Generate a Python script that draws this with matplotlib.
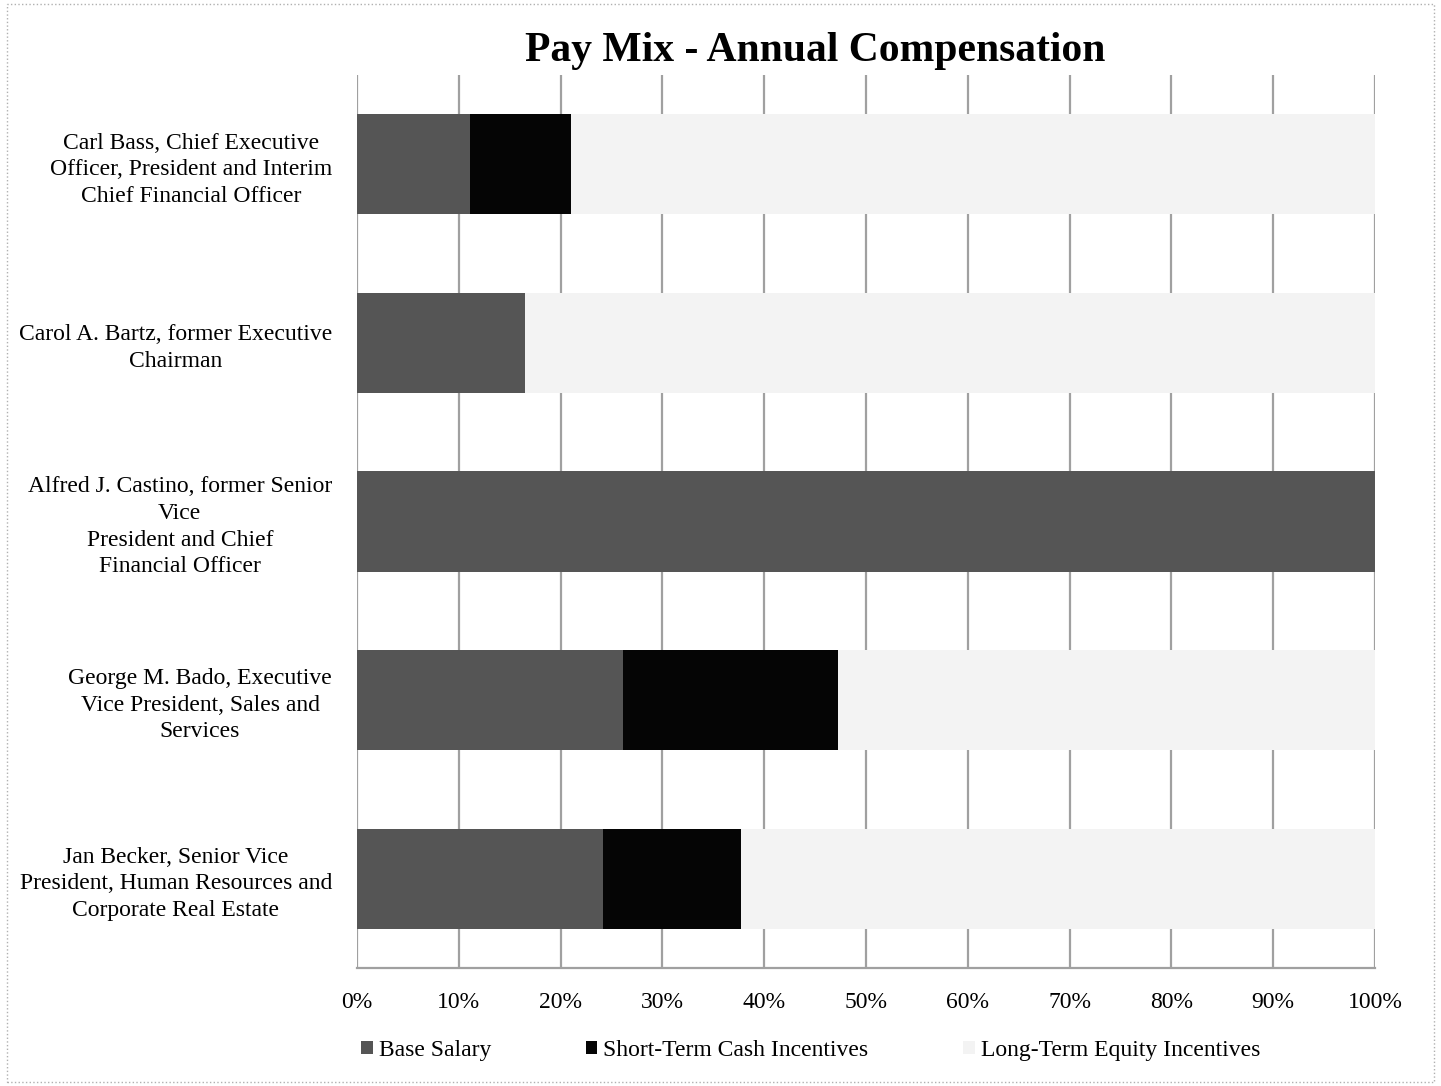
import numpy as np
import matplotlib.pyplot as plt
from matplotlib.patches import Patch, Rectangle

plt.rcParams['font.family'] = ['Liberation Serif', 'DejaVu Serif']

names = [
    'Carl Bass, Chief Executive\nOfficer, President and Interim\nChief Financial Officer',
    'Carol A. Bartz, former Executive\nChairman',
    'Alfred J. Castino, former Senior\nVice\nPresident and Chief\nFinancial Officer',
    'George M. Bado, Executive\nVice President, Sales and\nServices',
    'Jan Becker, Senior Vice\nPresident, Human Resources and\nCorporate Real Estate',
]
base_salary = np.array([11.1, 16.5, 100.0, 26.1, 24.2])
short_term = np.array([9.9, 0.0, 0.0, 21.2, 13.5])
long_term = 100.0 - base_salary - short_term

series = ['Base Salary', 'Short-Term Cash Incentives', 'Long-Term Equity Incentives']
colors = ['#555555', '#050505', '#f3f3f3']

fig = plt.figure(figsize=(14.41, 10.86), dpi=100)
ax = fig.add_axes([0.2477, 0.1087, 0.7065, 0.8222])

y = np.arange(len(names))
left = np.zeros(len(names))
for vals, col in zip([base_salary, short_term, long_term], colors):
    ax.barh(y, vals, left=left, height=0.56, color=col, zorder=3)
    left += vals

ax.set_xlim(0, 100)
ax.set_ylim(4.5, -0.5)
ax.set_xticks(np.arange(0, 101, 10))
ax.set_xticklabels([f'{v}%' for v in range(0, 101, 10)])
ax.set_yticks(y)
ax.set_yticklabels(names)
for lbl in ax.get_yticklabels():
    lbl.set_multialignment('center')
    lbl.set_linespacing(1.35)
ax.tick_params(axis='both', length=0, labelsize=17)
ax.tick_params(axis='x', pad=17)
ax.tick_params(axis='y', pad=18)
ax.grid(axis='x', color='#a0a0a0', lw=1.6, zorder=0)
for s in ['top', 'left', 'right']:
    ax.spines[s].set_visible(False)
ax.spines['bottom'].set_color('#a0a0a0')
ax.spines['bottom'].set_linewidth(1.6)

fig.text(0.5656, 0.953, 'Pay Mix - Annual Compensation', ha='center', va='center',
         fontsize=30, fontweight='bold')

handles = [Patch(facecolor=c, edgecolor='none') for c in colors]
fig.legend(handles, series, loc='center', bbox_to_anchor=(0.5625, 0.033), ncol=3,
           frameon=False, fontsize=17, handlelength=0.5, handleheight=0.5,
           handletextpad=0.25, columnspacing=4.0)

fig.patches.append(Rectangle((0.005, 0.004), 0.99, 0.992, transform=fig.transFigure,
                             fill=False, edgecolor='#b0b0b0', lw=1, ls=':'))

fig.savefig('out.png', dpi=100)
